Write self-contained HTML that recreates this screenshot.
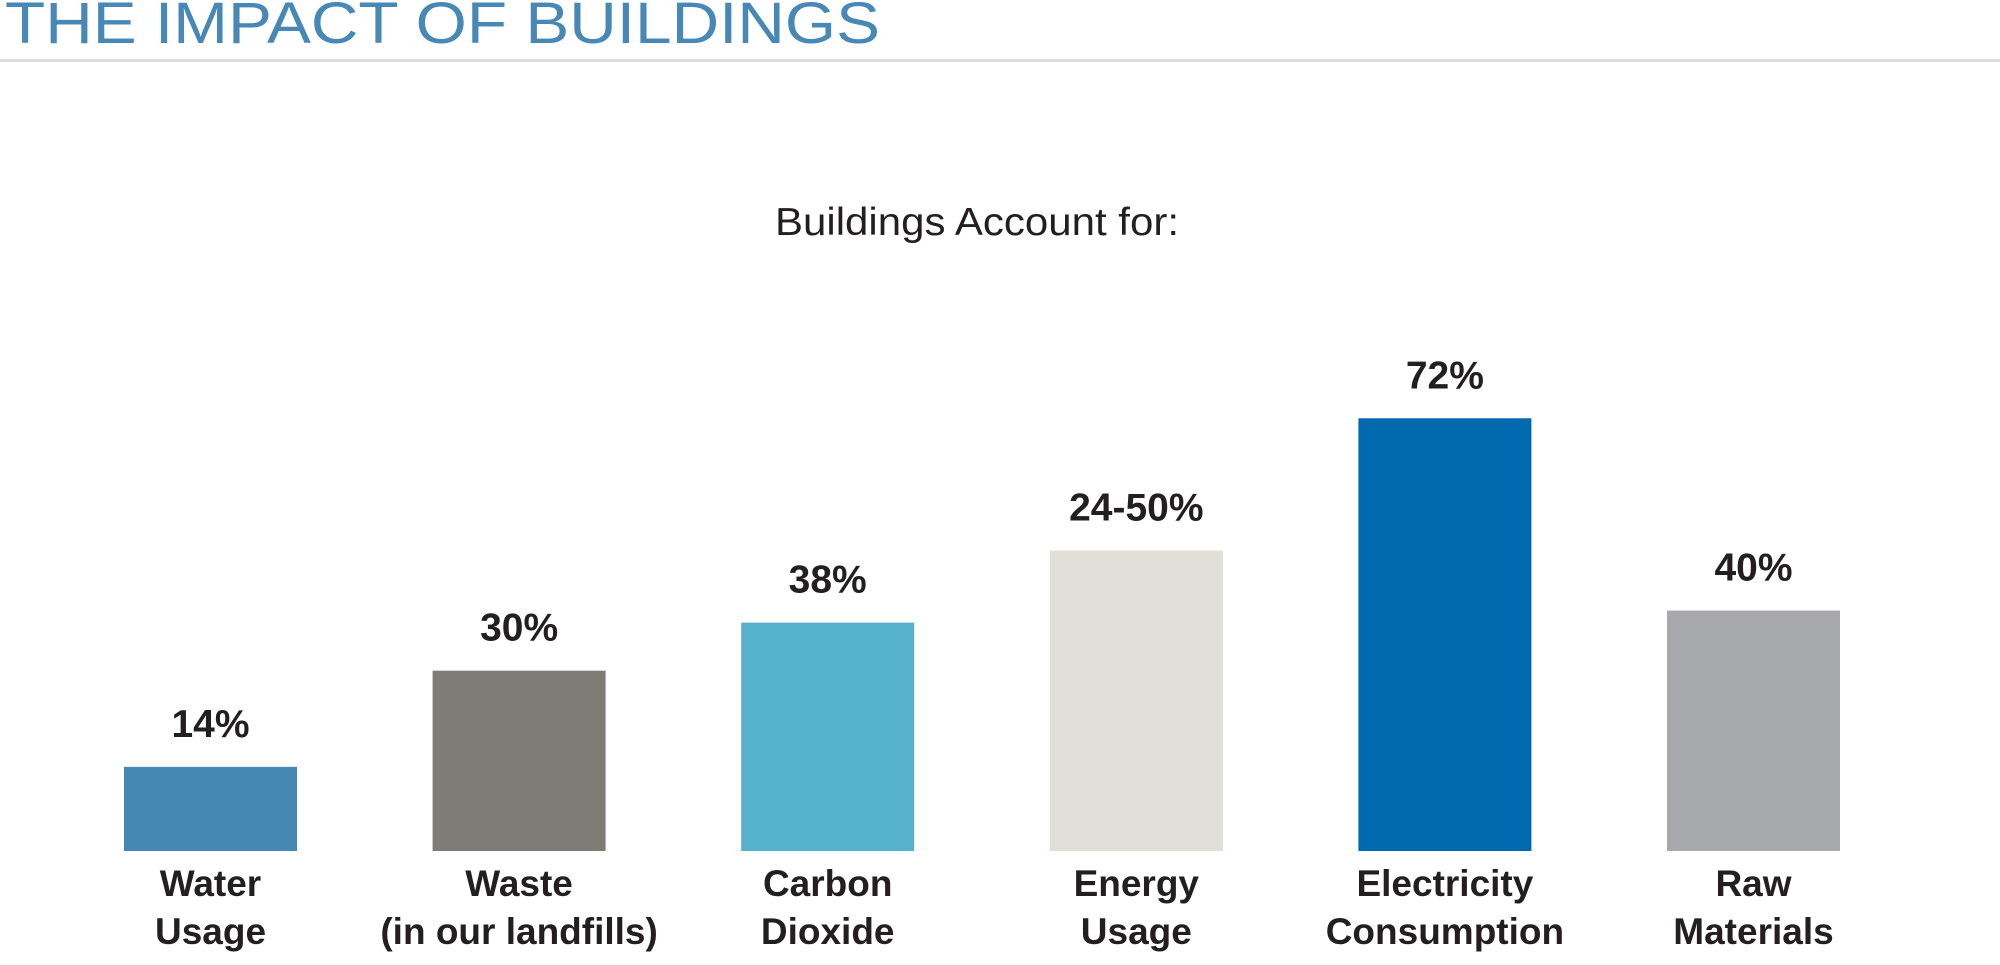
<!DOCTYPE html>
<html><head><meta charset="utf-8"><style>
html,body{margin:0;padding:0;background:#fff;}
svg{display:block;}
text{font-family:"Liberation Sans",sans-serif;}
</style></head><body>
<svg id="chart" width="2000" height="965" viewBox="0 0 2000 965">
<text x="5" y="43" font-size="58" fill="#4788b6" textLength="875" lengthAdjust="spacingAndGlyphs">THE IMPACT OF BUILDINGS</text>
<rect x="0" y="59" width="2000" height="3" fill="#e2ded7"></rect>
<text x="977" y="235" font-size="39" fill="#231f20" text-anchor="middle" textLength="404" lengthAdjust="spacingAndGlyphs">Buildings Account for:</text>
<g id="bars"></g>
</svg>
<script>
const categories=[["Water","Usage"],["Waste","(in our landfills)"],["Carbon","Dioxide","Emissions"],["Energy","Usage"],["Electricity","Consumption"],["Raw","Materials","Usage"]];
const values=[14,30,38,50,72,40];
const valueLabels=["14%","30%","38%","24-50%","72%","40%"];
const colors=["#4688b4","#7d7c77","#56b2cc","#e2dfd8","#0169ad","#a8a9ac"];
const NS="http://www.w3.org/2000/svg";
const baseY=851, pxPer=6.01, x0=124, step=308.6, bw=173;
function yScale(v){return baseY-v*pxPer;}
function xScale(i){return x0+i*step;}
const g=document.getElementById('bars');
values.forEach((v,i)=>{
  const x=xScale(i), y=yScale(v);
  const r=document.createElementNS(NS,'rect');
  r.setAttribute('x',x);r.setAttribute('y',y);r.setAttribute('width',bw);r.setAttribute('height',baseY-y);r.setAttribute('fill',colors[i]);
  
  
  g.appendChild(r);
  const t=document.createElementNS(NS,'text');
  t.setAttribute('x',x+bw/2);t.setAttribute('y',y-30);t.setAttribute('text-anchor','middle');
  t.setAttribute('font-size','39');t.setAttribute('font-weight','bold');t.setAttribute('fill','#231f20');
  t.textContent=valueLabels[i];
  
  
  g.appendChild(t);
  categories[i].forEach((line,j)=>{
    const c=document.createElementNS(NS,'text');
    c.setAttribute('x',x+bw/2);c.setAttribute('y',896+j*48);c.setAttribute('text-anchor','middle');
    c.setAttribute('font-size','37');c.setAttribute('font-weight','bold');c.setAttribute('fill','#231f20');
    c.textContent=line;
    
    
    g.appendChild(c);
  });
});
</script>
</body></html>
